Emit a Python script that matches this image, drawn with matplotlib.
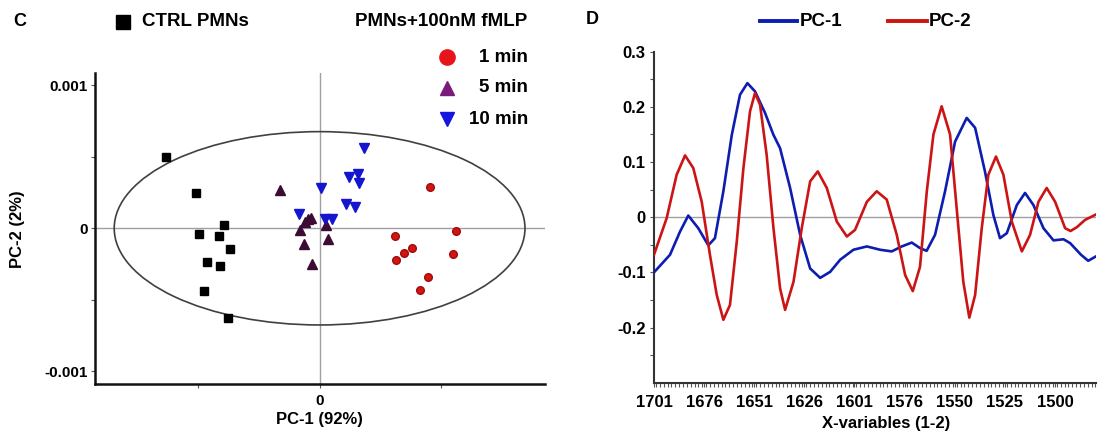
import matplotlib
matplotlib.use("Agg")
import matplotlib.pyplot as plt
from matplotlib.patches import Ellipse
from matplotlib.lines import Line2D
from matplotlib.ticker import MultipleLocator, FixedLocator

plt.rcParams["font.family"] = ["Liberation Sans", "DejaVu Sans"]
plt.rcParams["font.weight"] = "bold"

# ---- panel C: PCA scores (PC-1 x 0.01 scale units, PC-2) ----
ctrl_x = [-0.01261, -0.01015, -0.00994, -0.00783, -0.00824, -0.00739, -0.00924, -0.00815, -0.00953, -0.00754]
ctrl_y = [0.000497, 0.000249, -0.000037, 0.000021, -0.000054, -0.000142, -0.000238, -0.000263, -0.000441, -0.000629]

min1_x = [0.00909, 0.01120, 0.00616, 0.00762, 0.00695, 0.00630, 0.01091, 0.00889, 0.00821]
min1_y = [0.000287, -0.000016, -0.000054, -0.000138, -0.000175, -0.000221, -0.000179, -0.000340, -0.000431]

min5_x = [-0.00323, -0.00097, -0.00073, -0.00117, -0.00161, -0.00132, 0.00067, -0.00059, 0.00050]
min5_y = [0.000268, 0.000063, 0.000070, 0.000047, -0.000012, -0.000110, -0.000075, -0.000249, 0.000023]

min10_x = [0.00367, 0.00243, 0.00317, 0.00323, 0.00009, 0.00214, 0.00293, -0.00167, 0.00044, 0.00103]
min10_y = [0.000559, 0.000361, 0.000380, 0.000315, 0.000280, 0.000170, 0.000147, 0.000100, 0.000063, 0.000063]

ellipse_w = 2 * 0.01686
ellipse_h = 2 * 0.000676

# ---- panel D: loadings ----
pc1_w = [1701, 1693, 1688, 1683.9, 1678.9, 1673.9, 1670.6, 1666.4, 1662.2, 1658.1, 1654.4,
         1650.6, 1645.6, 1641.5, 1638.1, 1633.1, 1628.1, 1623.1, 1618.1, 1613.1, 1608.1,
         1601.5, 1594.8, 1588.2, 1582.4, 1577.4, 1572.4, 1568.3, 1565, 1560.8, 1555.8,
         1550.8, 1545, 1540.8, 1535.9, 1531.7, 1528.4, 1525, 1520, 1515.9, 1511.7,
         1506.7, 1501.7, 1496.7, 1493.4, 1488, 1484.4, 1480.5]
pc1_v = [-0.100, -0.068, -0.026, 0.003, -0.020, -0.051, -0.038, 0.047, 0.149, 0.222, 0.243,
         0.228, 0.189, 0.150, 0.125, 0.053, -0.032, -0.093, -0.110, -0.099, -0.077,
         -0.059, -0.053, -0.059, -0.062, -0.053, -0.046, -0.056, -0.061, -0.032, 0.047,
         0.137, 0.180, 0.162, 0.083, 0.004, -0.038, -0.029, 0.022, 0.044, 0.022,
         -0.020, -0.042, -0.040, -0.047, -0.068, -0.079, -0.071]

pc2_w = [1701, 1694.7, 1689.7, 1685.5, 1681.4, 1677.2, 1673.1, 1669.7, 1666.4, 1663.1, 1659.7,
         1656.4, 1653.1, 1650.6, 1648.1, 1644.8, 1641.4, 1638.1, 1635.6, 1631.4, 1627.3,
         1623.1, 1619.3, 1614.8, 1609.8, 1604.8, 1600.7, 1594.8, 1589.9, 1584.9, 1579.9,
         1575.7, 1571.9, 1568.3, 1564.9, 1561.6, 1557.5, 1553.3, 1550, 1546.7, 1543.7,
         1540.8, 1537.5, 1534.2, 1530.4, 1526.7, 1522.5, 1517.5, 1513.4, 1509.2, 1505.1,
         1500.9, 1495.9, 1493.2, 1490, 1486, 1480.5]
pc2_v = [-0.068, -0.002, 0.077, 0.112, 0.089, 0.028, -0.068, -0.141, -0.186, -0.159, -0.044,
         0.089, 0.192, 0.225, 0.204, 0.113, -0.020, -0.129, -0.168, -0.117, -0.020,
         0.065, 0.083, 0.053, -0.008, -0.035, -0.023, 0.028, 0.047, 0.032, -0.032,
         -0.105, -0.134, -0.090, 0.047, 0.150, 0.201, 0.150, 0.016, -0.117, -0.182,
         -0.141, -0.020, 0.077, 0.110, 0.077, -0.008, -0.062, -0.032, 0.028, 0.053,
         0.028, -0.020, -0.025, -0.018, -0.005, 0.005]

wn_ticks = [1701, 1676, 1651, 1626, 1601, 1576, 1551, 1526, 1501]
wn_labels = ["1701", "1676", "1651", "1626", "1601", "1576", "1550", "1525", "1500"]

W, H = 1116, 436
fig = plt.figure(figsize=(W / 100, H / 100), dpi=100)


def fx(px):
    return px / W


def fy(py):
    return 1 - py / H


# ---------- panel C ----------
axc = fig.add_axes([fx(94.6), fy(384.3), fx(544.6) - fx(94.6), fy(73.3) - fy(384.3)])
axc.set_xlim(-0.01847, 0.01847)
axc.set_ylim(-0.001091, 0.001084)
axc.axhline(0, color="#a0a0a0", lw=1.0, zorder=1)
axc.axvline(0, color="#a0a0a0", lw=1.0, zorder=1)
axc.add_patch(Ellipse((0, 0), ellipse_w, ellipse_h, fill=False, ec="#404040", lw=1.2, zorder=2))

axc.plot(ctrl_x, ctrl_y, "s", color="#000000", ms=5.2, zorder=3)
axc.plot(min1_x, min1_y, "o", color="#d4140f", mec="#a00a0a", ms=5.5, zorder=3)
axc.plot(min5_x, min5_y, "^", color="#3c0c34", ms=6.5, zorder=3)
axc.plot(min10_x, min10_y, "v", color="#1515d0", ms=6.5, zorder=3)

for s in ["top", "right"]:
    axc.spines[s].set_visible(False)
for s in ["left", "bottom"]:
    axc.spines[s].set_linewidth(1.8)
    axc.spines[s].set_color("#111111")
axc.set_xticks([-0.01, 0, 0.01])
axc.set_xticklabels(["", "0", ""])
axc.set_yticks([-0.001, 0, 0.001])
axc.set_yticklabels(["-0.001", "0", "0.001"])
axc.yaxis.set_minor_locator(FixedLocator([-0.0005, 0.0005]))
axc.tick_params(axis="both", which="both", direction="out", length=3, width=0.8,
                colors="#555555", labelcolor="black", labelsize=11, pad=2)
axc.tick_params(axis="x", pad=4)
axc.set_xlabel("PC-1 (92%)", fontsize=12, fontweight="bold", labelpad=3)
axc.set_ylabel("PC-2 (2%)", fontsize=12, fontweight="bold", labelpad=14)

# legend of panel C
fig.text(fx(20), fy(22), "C", fontsize=13, fontweight="bold", ha="center", va="center")
fig.add_artist(Line2D([fx(123)], [fy(22)], marker="s", color="black", ms=10, transform=fig.transFigure))
fig.text(fx(142), fy(22), "CTRL PMNs", fontsize=13.5, fontweight="bold", ha="left", va="center")
fig.text(fx(527), fy(22), "PMNs+100nM fMLP", fontsize=13.5, fontweight="bold", ha="right", va="center")
leg_items = [("o", "#e8141b", "1 min", 57), ("^", "#7a1a7a", "5 min", 88), ("v", "#1515e0", "10 min", 119)]
for mk, col, lab, yy in leg_items:
    fig.add_artist(Line2D([fx(447)], [fy(yy)], marker=mk, color=col, ms=11 if mk == "o" else 10.5,
                          transform=fig.transFigure))
    fig.text(fx(528), fy(yy), lab, fontsize=13.5, fontweight="bold", ha="right", va="center")

# ---------- panel D ----------
axd = fig.add_axes([fx(654), fy(382.7), fx(1096) - fx(654), fy(51.7) - fy(382.7)])
axd.set_xlim(1701, 1480.5)
axd.set_ylim(-0.3, 0.3)
axd.axhline(0, color="#a0a0a0", lw=1.0, zorder=1)
axd.plot(pc1_w, pc1_v, color="#0d1db0", lw=1.9, zorder=3, solid_joinstyle="round")
axd.plot(pc2_w, pc2_v, color="#cc1414", lw=1.9, zorder=3, solid_joinstyle="round")

for s in ["top", "right"]:
    axd.spines[s].set_visible(False)
for s in ["left", "bottom"]:
    axd.spines[s].set_linewidth(1.5)
    axd.spines[s].set_color("#333333")
axd.set_xticks(wn_ticks)
axd.set_xticklabels(wn_labels)
axd.xaxis.set_minor_locator(MultipleLocator(25 / 13))
axd.set_yticks([0.3, 0.2, 0.1, 0, -0.1, -0.2])
axd.set_yticklabels(["0.3", "0.2", "0.1", "0", "-0.1", "-0.2"])
axd.yaxis.set_minor_locator(FixedLocator([0.25, 0.15, 0.05, -0.05, -0.15, -0.25]))
axd.tick_params(axis="both", which="both", direction="out", length=3, width=0.8,
                colors="#555555", labelcolor="black", labelsize=12, pad=3)
axd.tick_params(axis="x", which="major", pad=6)
axd.set_xlabel("X-variables (1-2)", fontsize=12, fontweight="bold")
axd.xaxis.set_label_coords(0.525, -0.1)

fig.text(fx(592), fy(20), "D", fontsize=13, fontweight="bold", ha="center", va="center")
fig.add_artist(Line2D([fx(760), fx(797)], [fy(21), fy(21)], color="#0d1db0", lw=2.8, transform=fig.transFigure))
fig.text(fx(800), fy(21), "PC-1", fontsize=13.5, fontweight="bold", ha="left", va="center")
fig.add_artist(Line2D([fx(888), fx(927)], [fy(21), fy(21)], color="#cc1414", lw=2.8, transform=fig.transFigure))
fig.text(fx(929), fy(21), "PC-2", fontsize=13.5, fontweight="bold", ha="left", va="center")

fig.savefig("out.png", dpi=100, facecolor="white")
